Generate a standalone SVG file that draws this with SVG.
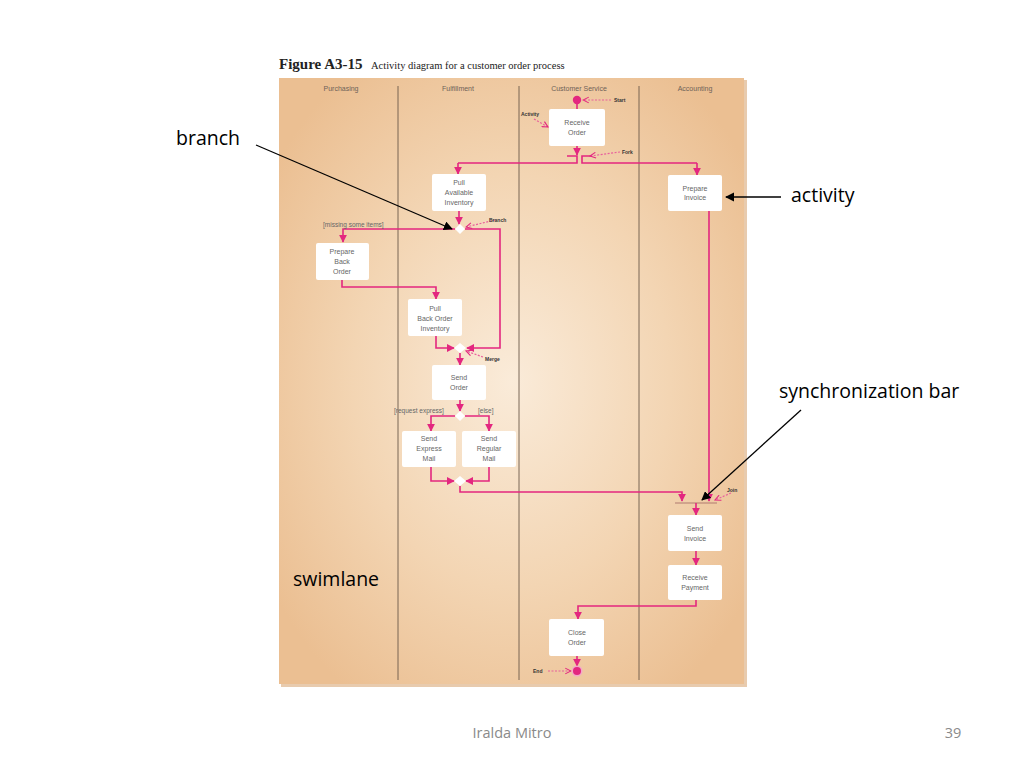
<svg xmlns="http://www.w3.org/2000/svg" width="1024" height="768" viewBox="0 0 1024 768">
<defs>
<radialGradient id="bg" cx="50%" cy="50%" r="62%">
<stop offset="0" stop-color="#faebd9"/>
<stop offset="0.55" stop-color="#f3d5b3"/>
<stop offset="1" stop-color="#ebbf92"/>
</radialGradient>
<marker id="pa" viewBox="0 0 10 10" refX="9" refY="5" markerWidth="5" markerHeight="5" orient="auto-start-reverse">
<path d="M0,0 L10,5 L0,10 z" fill="#e3277f"/>
</marker>
<marker id="da" viewBox="0 0 10 10" refX="9" refY="5" markerWidth="6" markerHeight="6" orient="auto">
<path d="M1,1 L9,5 L1,9" fill="none" stroke="#e3277f" stroke-width="1.5"/>
</marker>
<marker id="ba" viewBox="0 0 10 10" refX="9" refY="5" markerWidth="7" markerHeight="7" orient="auto">
<path d="M0,0 L10,5 L0,10 z" fill="#000"/>
</marker>
<style>
.flow{fill:none;stroke:#e3277f;stroke-width:1.6;marker-end:url(#pa)}
.line{fill:none;stroke:#e3277f;stroke-width:1.6}
.dot{fill:none;stroke:#e8609c;stroke-width:1.2;stroke-dasharray:2,1.5;marker-end:url(#da)}
.box{fill:#fff;stroke:none}
.bt{font-family:"Liberation Sans",Arial,sans-serif;font-size:7px;fill:#666;text-anchor:middle}
.lh{font-family:"Liberation Sans",Arial,sans-serif;font-size:7px;fill:#6e6258;text-anchor:middle}
.lab{font-family:"Liberation Sans",Arial,sans-serif;font-size:5px;font-weight:bold;fill:#333}
.grd{font-family:"Liberation Sans",Arial,sans-serif;font-size:6.5px;fill:#666}
.dia{fill:#fff;stroke:none}
.ann{font-family:"Open Sans","Liberation Sans",sans-serif;font-size:19.5px;fill:#000}
.bk{stroke:#000;stroke-width:1.3;fill:none;marker-end:url(#ba)}
.lane{stroke:#6b5a4a;stroke-width:0.9}
</style>
</defs>
<rect width="1024" height="768" fill="#fff"/>
<g id="title">
<text x="279" y="69" font-family="Liberation Serif,serif" font-size="15" font-weight="bold" fill="#222">Figure A3-15</text>
<text x="371" y="69" font-family="Liberation Serif,serif" font-size="10.5" fill="#222">Activity diagram for a customer order process</text>
</g>
<g id="panel">
<rect x="281" y="80" width="466" height="607" fill="#d9a878" opacity="0.6"/>
<rect x="279" y="78" width="465" height="606" fill="url(#bg)"/>
<line class="lane" x1="398" y1="86" x2="398" y2="680"/>
<line class="lane" x1="519" y1="86" x2="519" y2="680"/>
<line class="lane" x1="639" y1="86" x2="639" y2="680"/>
<text class="lh" x="341" y="91">Purchasing</text>
<text class="lh" x="458" y="91">Fulfillment</text>
<text class="lh" x="579" y="91">Customer Service</text>
<text class="lh" x="695" y="91">Accounting</text>
</g>
<g id="connectors">
<line class="line" x1="577" y1="103" x2="577" y2="109"/>
<line class="flow" x1="577" y1="146" x2="577" y2="155"/>
<path class="line" d="M567,156 H577 V163 H458"/>
<path class="line" d="M592,156 H582 V163 H697"/>
<line class="flow" x1="458" y1="163" x2="458" y2="174"/>
<line class="flow" x1="697" y1="163" x2="697" y2="175"/>
<line class="flow" x1="459" y1="211" x2="459" y2="224"/>
<path class="flow" d="M455,229 H343 V242"/>
<path class="flow" d="M465,229 H500 V348 H467"/>
<path class="flow" d="M342,280 V287 H436 V299"/>
<path class="flow" d="M436,336 V348 H454"/>
<line class="flow" x1="460" y1="353" x2="460" y2="365"/>
<line class="flow" x1="460" y1="400" x2="460" y2="411"/>
<path class="flow" d="M455,416 H431 V431"/>
<path class="flow" d="M465,416 H489 V431"/>
<path class="flow" d="M431,467 V481 H454"/>
<path class="flow" d="M489,467 V481 H466"/>
<path class="flow" d="M460,486 V492 H682 V501"/>
<line class="flow" x1="709" y1="211" x2="709" y2="501"/>
<line x1="675" y1="503" x2="717" y2="503" stroke="#b07a70" stroke-width="1.2"/>
<line class="flow" x1="696" y1="503" x2="696" y2="515"/>
<line class="flow" x1="696" y1="551" x2="696" y2="565"/>
<path class="flow" d="M696,600 V606 H578 V619"/>
<line class="flow" x1="577" y1="656" x2="577" y2="666"/>
<line class="dot" x1="611" y1="100" x2="583" y2="100"/>
<line class="dot" x1="534" y1="119" x2="548" y2="127"/>
<line class="dot" x1="620" y1="152" x2="590" y2="156"/>
<line class="dot" x1="495" y1="220" x2="466" y2="227"/>
<line class="dot" x1="483" y1="357" x2="466" y2="351"/>
<line class="dot" x1="731" y1="493" x2="715" y2="500"/>
<line class="dot" x1="548" y1="671" x2="571" y2="671"/>
</g>
<g id="start"><circle cx="577" cy="100" r="4.2" fill="#e3277f"/><text class="lab" x="614" y="102">Start</text></g>
<g id="end"><circle cx="577" cy="671" r="5.5" fill="#f4a7c9"/><circle cx="577" cy="671" r="4" fill="#e3277f"/><text class="lab" x="533" y="673">End</text></g>
<g id="receive-order"><rect class="box" x="549" y="109" width="56" height="37" rx="2"/><text class="bt" x="577" y="125">Receive</text><text class="bt" x="577" y="135">Order</text><text class="lab" x="521" y="116">Activity</text></g>
<g id="fork"><text class="lab" x="622" y="154">Fork</text></g>
<g id="pull-available"><rect class="box" x="432" y="174" width="54" height="37" rx="2"/><text class="bt" x="459" y="185">Pull</text><text class="bt" x="459" y="195">Available</text><text class="bt" x="459" y="205">Inventory</text></g>
<g id="prepare-invoice"><rect class="box" x="668" y="175" width="54" height="36" rx="2"/><text class="bt" x="695" y="191">Prepare</text><text class="bt" x="695" y="200">Invoice</text></g>
<g id="branch1"><path class="dia" d="M460,224 L465,229 L460,234 L455,229 z"/><text class="lab" x="489" y="222">Branch</text><text class="grd" x="323" y="227">[missing some items]</text></g>
<g id="prepare-back-order"><rect class="box" x="316" y="243" width="53" height="37" rx="2"/><text class="bt" x="342" y="254">Prepare</text><text class="bt" x="342" y="264">Back</text><text class="bt" x="342" y="274">Order</text></g>
<g id="pull-back-order"><rect class="box" x="408" y="299" width="54" height="37" rx="2"/><text class="bt" x="435" y="311">Pull</text><text class="bt" x="435" y="321">Back Order</text><text class="bt" x="435" y="331">Inventory</text></g>
<g id="merge1"><path class="dia" d="M460,343 L466,348 L460,353 L454,348 z"/><text class="lab" x="485" y="361">Merge</text></g>
<g id="send-order"><rect class="box" x="432" y="365" width="54" height="35" rx="2"/><text class="bt" x="459" y="380">Send</text><text class="bt" x="459" y="390">Order</text></g>
<g id="branch2"><path class="dia" d="M460,411 L465,416 L460,421 L455,416 z"/><text class="grd" x="394" y="413">[request express]</text><text class="grd" x="478" y="413">[else]</text></g>
<g id="send-express"><rect class="box" x="402" y="431" width="54" height="36" rx="2"/><text class="bt" x="429" y="441">Send</text><text class="bt" x="429" y="451">Express</text><text class="bt" x="429" y="461">Mail</text></g>
<g id="send-regular"><rect class="box" x="462" y="431" width="54" height="36" rx="2"/><text class="bt" x="489" y="441">Send</text><text class="bt" x="489" y="451">Regular</text><text class="bt" x="489" y="461">Mail</text></g>
<g id="merge2"><path class="dia" d="M460,476 L466,481 L460,486 L454,481 z"/></g>
<g id="join"><text class="lab" x="727" y="492">Join</text></g>
<g id="send-invoice"><rect class="box" x="668" y="515" width="54" height="36" rx="2"/><text class="bt" x="695" y="531">Send</text><text class="bt" x="695" y="541">Invoice</text></g>
<g id="receive-payment"><rect class="box" x="668" y="565" width="54" height="35" rx="2"/><text class="bt" x="695" y="580">Receive</text><text class="bt" x="695" y="590">Payment</text></g>
<g id="close-order"><rect class="box" x="549" y="619" width="55" height="37" rx="2"/><text class="bt" x="577" y="635">Close</text><text class="bt" x="577" y="645">Order</text></g>
<g id="annotations">
<text class="ann" x="176" y="145">branch</text>
<line class="bk" x1="256" y1="145" x2="452" y2="229"/>
<text class="ann" x="791" y="202">activity</text>
<line class="bk" x1="781" y1="197" x2="726" y2="197"/>
<text class="ann" x="779" y="398">synchronization bar</text>
<line class="bk" x1="801" y1="410" x2="702" y2="500"/>
<text class="ann" x="293" y="586">swimlane</text>
</g>
<g id="footer">
<text x="512" y="738" font-family="Open Sans,Liberation Sans,sans-serif" font-size="14.5" fill="#8a8a8a" text-anchor="middle">Iralda Mitro</text>
<text x="953" y="738" font-family="Open Sans,Liberation Sans,sans-serif" font-size="14.5" fill="#8a8a8a" text-anchor="middle">39</text>
</g>
</svg>
